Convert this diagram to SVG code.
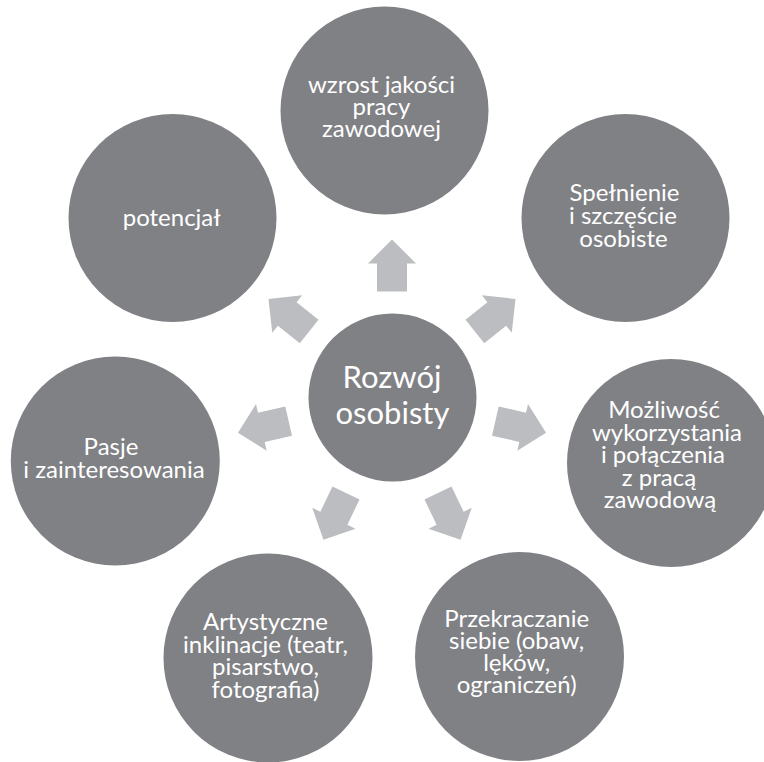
<svg xmlns="http://www.w3.org/2000/svg" xmlns:xlink="http://www.w3.org/1999/xlink" width="764" height="762" viewBox="0 0 764 762">
  <style>
    .node { fill: #808185; }
    .arrow { fill: #BCBDC0; }
    .lbl { font-family: Lato, "Liberation Sans", sans-serif; font-size: 24px; fill: #FFFFFF; text-anchor: middle; }
    .lbl-c { font-family: Lato, "Liberation Sans", sans-serif; font-size: 31px; fill: #FFFFFF; text-anchor: middle; }
  </style>
  <defs>
    <path id="arr" d="M0,-15 L28,-15 L28,-24 L52,0 L28,24 L28,15 L0,15 Z"/>
  </defs>
  <rect width="764" height="762" fill="#FFFFFF"/>

  <g id="connectors" class="arrow">
    <use xlink:href="#arr" href="#arr" transform="translate(392 397.5) rotate(-90) translate(106 0)"/>
    <use xlink:href="#arr" href="#arr" transform="translate(392 397.5) rotate(-38.57) translate(106 0)"/>
    <use xlink:href="#arr" href="#arr" transform="translate(392 397.5) rotate(12.86) translate(106 0)"/>
    <use xlink:href="#arr" href="#arr" transform="translate(392 397.5) rotate(64.29) translate(106 0)"/>
    <use xlink:href="#arr" href="#arr" transform="translate(392 397.5) rotate(115.71) translate(106 0)"/>
    <use xlink:href="#arr" href="#arr" transform="translate(392 397.5) rotate(167.14) translate(106 0)"/>
    <use xlink:href="#arr" href="#arr" transform="translate(392 397.5) rotate(218.57) translate(106 0)"/>
  </g>

  <g id="node-center">
    <circle class="node" cx="392.5" cy="397.5" r="84"/>
    <text class="lbl-c"><tspan x="392" y="388">Rozwój</tspan><tspan x="392.5" y="424">osobisty</tspan></text>
  </g>

  <g id="node-wzrost">
    <circle class="node" cx="384.5" cy="110.5" r="104"/>
    <text class="lbl"><tspan x="381.5" y="93.3">wzrost jakości</tspan><tspan x="381.5" y="115.3">pracy</tspan><tspan x="381.5" y="137.3">zawodowej</tspan></text>
  </g>

  <g id="node-spelnienie">
    <circle class="node" cx="625.5" cy="218" r="104"/>
    <text class="lbl"><tspan x="624.5" y="201">Spełnienie</tspan><tspan x="623" y="224">i szczęście</tspan><tspan x="623.5" y="247">osobiste</tspan></text>
  </g>

  <g id="node-mozliwosc">
    <circle class="node" cx="671" cy="463" r="104"/>
    <text class="lbl"><tspan x="664" y="418.3">Możliwość</tspan><tspan x="667" y="440.7">wykorzystania</tspan><tspan x="663" y="463.1">i połączenia</tspan><tspan x="659" y="485.5">z pracą</tspan><tspan x="660" y="507.9">zawodową</tspan></text>
  </g>

  <g id="node-przekraczanie">
    <circle class="node" cx="519.5" cy="656.5" r="104.5"/>
    <text class="lbl"><tspan x="516.7" y="626.5">Przekraczanie</tspan><tspan x="516.7" y="648.7">siebie (obaw,</tspan><tspan x="516.7" y="670.9">lęków,</tspan><tspan x="516.7" y="693.1">ograniczeń)</tspan></text>
  </g>

  <g id="node-artystyczne">
    <circle class="node" cx="268" cy="658" r="104.5"/>
    <text class="lbl"><tspan x="265.5" y="630">Artystyczne</tspan><tspan x="265.5" y="652.5">inklinacje (teatr,</tspan><tspan x="265.5" y="675">pisarstwo,</tspan><tspan x="265.5" y="697.5">fotografia)</tspan></text>
  </g>

  <g id="node-pasje">
    <circle class="node" cx="115.3" cy="461" r="104.5"/>
    <text class="lbl"><tspan x="111" y="455">Pasje</tspan><tspan x="114" y="478">i zainteresowania</tspan></text>
  </g>

  <g id="node-potencjal">
    <circle class="node" cx="172.5" cy="218" r="104"/>
    <text class="lbl" x="171.7" y="226">potencjał</text>
  </g>
</svg>
